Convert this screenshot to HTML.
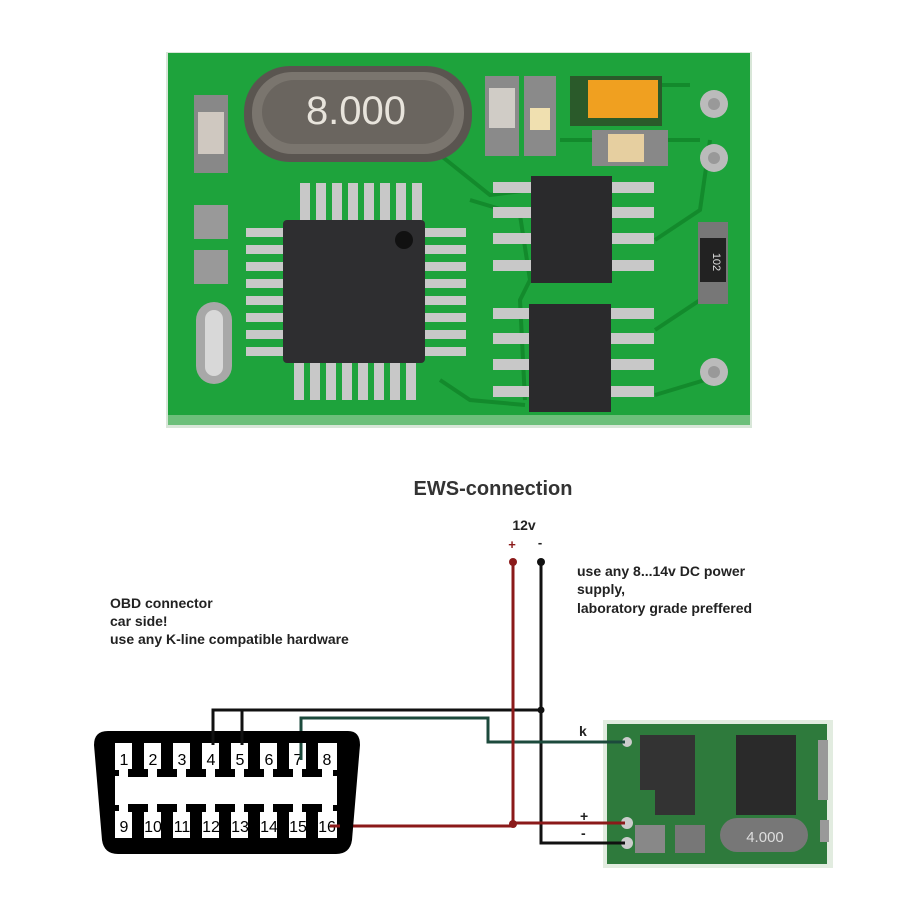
<!DOCTYPE html>
<html><head><meta charset="utf-8"><style>
html,body{margin:0;padding:0;background:#fff}
svg{display:block}
text{font-family:"Liberation Sans",Arial,sans-serif}
</style></head><body>
<svg width="900" height="900" viewBox="0 0 900 900" xmlns="http://www.w3.org/2000/svg">
<rect width="900" height="900" fill="#fff"/>
<!-- top PCB -->
<rect x="166" y="52" width="586" height="376" fill="#d8e6d8"/>
<rect x="168" y="53" width="582" height="368" fill="#1ea33c"/>
<rect x="168" y="415" width="582" height="10" fill="#6cbf7a"/>
<g stroke="#138a2c" stroke-width="4" fill="none">
<path d="M440 155 L490 195 L530 190"/><path d="M470 200 L520 215 L530 280 L520 300 L525 400"/>
<path d="M655 240 L700 210 L710 140"/><path d="M655 330 L700 300 L700 250"/><path d="M655 395 L705 380"/>
<path d="M440 380 L470 400 L525 405"/><path d="M560 140 L700 140"/><path d="M570 85 L690 85"/>
</g>
<!-- crystal -->
<rect x="244" y="66" width="228" height="96" rx="46" fill="#5a5550"/>
<rect x="252" y="72" width="212" height="82" rx="40" fill="#7a756e"/>
<rect x="262" y="80" width="192" height="64" rx="32" fill="#6a655f"/>
<text x="356" y="124" font-size="40" fill="#e8e4dc" text-anchor="middle">8.000</text>
<!-- left small parts -->
<rect x="194" y="95" width="34" height="78" fill="#888"/><rect x="198" y="112" width="26" height="42" fill="#cfc8c0"/>
<rect x="194" y="205" width="34" height="34" fill="#999"/><rect x="194" y="250" width="34" height="34" fill="#999"/>
<rect x="196" y="302" width="36" height="82" rx="18" fill="#a8a8a8"/><rect x="205" y="310" width="18" height="66" rx="9" fill="#d8d8d8"/>
<!-- top components -->
<rect x="485" y="76" width="34" height="80" fill="#8a8a8a"/><rect x="489" y="88" width="26" height="40" fill="#d0ccc6"/>
<rect x="524" y="76" width="32" height="80" fill="#8a8a8a"/><rect x="530" y="108" width="20" height="22" fill="#f0e0b0"/>
<rect x="570" y="76" width="92" height="50" fill="#2a5a2a"/><rect x="588" y="80" width="70" height="38" fill="#f0a020"/>
<rect x="592" y="130" width="76" height="36" fill="#888"/><rect x="608" y="134" width="36" height="28" fill="#e6cfa0"/>
<circle cx="714" cy="104" r="14" fill="#bbb"/><circle cx="714" cy="104" r="6" fill="#999"/>
<circle cx="714" cy="158" r="14" fill="#bbb"/><circle cx="714" cy="158" r="6" fill="#999"/>
<circle cx="714" cy="372" r="14" fill="#bbb"/><circle cx="714" cy="372" r="6" fill="#999"/>
<rect x="698" y="222" width="30" height="82" fill="#777"/><rect x="700" y="238" width="26" height="44" fill="#222"/>
<text x="713" y="262" font-size="11" fill="#ddd" text-anchor="middle" transform="rotate(90 713 262)">102</text>
<!-- QFP -->
<g fill="#c8c8c8">
<rect x="300" y="183" width="10" height="38"/><rect x="316" y="183" width="10" height="38"/><rect x="332" y="183" width="10" height="38"/><rect x="348" y="183" width="10" height="38"/><rect x="364" y="183" width="10" height="38"/><rect x="380" y="183" width="10" height="38"/><rect x="396" y="183" width="10" height="38"/><rect x="412" y="183" width="10" height="38"/>
<rect x="294" y="362" width="10" height="38"/><rect x="310" y="362" width="10" height="38"/><rect x="326" y="362" width="10" height="38"/><rect x="342" y="362" width="10" height="38"/><rect x="358" y="362" width="10" height="38"/><rect x="374" y="362" width="10" height="38"/><rect x="390" y="362" width="10" height="38"/><rect x="406" y="362" width="10" height="38"/>
<rect x="246" y="228" width="40" height="9"/><rect x="246" y="245" width="40" height="9"/><rect x="246" y="262" width="40" height="9"/><rect x="246" y="279" width="40" height="9"/><rect x="246" y="296" width="40" height="9"/><rect x="246" y="313" width="40" height="9"/><rect x="246" y="330" width="40" height="9"/><rect x="246" y="347" width="40" height="9"/>
<rect x="424" y="228" width="42" height="9"/><rect x="424" y="245" width="42" height="9"/><rect x="424" y="262" width="42" height="9"/><rect x="424" y="279" width="42" height="9"/><rect x="424" y="296" width="42" height="9"/><rect x="424" y="313" width="42" height="9"/><rect x="424" y="330" width="42" height="9"/><rect x="424" y="347" width="42" height="9"/>
</g>
<rect x="283" y="220" width="142" height="143" rx="4" fill="#2e2e30"/>
<circle cx="404" cy="240" r="9" fill="#111"/>
<!-- SOIC -->
<g fill="#c8c8c8">
<rect x="493" y="182" width="40" height="11"/><rect x="493" y="207" width="40" height="11"/><rect x="493" y="233" width="40" height="11"/><rect x="493" y="260" width="40" height="11"/>
<rect x="610" y="182" width="44" height="11"/><rect x="610" y="207" width="44" height="11"/><rect x="610" y="233" width="44" height="11"/><rect x="610" y="260" width="44" height="11"/>
<rect x="493" y="308" width="40" height="11"/><rect x="493" y="333" width="40" height="11"/><rect x="493" y="359" width="40" height="11"/><rect x="493" y="386" width="40" height="11"/>
<rect x="610" y="308" width="44" height="11"/><rect x="610" y="333" width="44" height="11"/><rect x="610" y="359" width="44" height="11"/><rect x="610" y="386" width="44" height="11"/>
</g>
<rect x="531" y="176" width="81" height="107" fill="#2a2a2c"/>
<rect x="529" y="304" width="82" height="108" fill="#2a2a2c"/>

<!-- title/text -->
<text x="493" y="495" font-size="20" font-weight="bold" fill="#333" text-anchor="middle">EWS-connection</text>
<text x="524" y="530" font-size="14" font-weight="bold" fill="#222" text-anchor="middle">12v</text>
<text x="512" y="549" font-size="13" font-weight="bold" fill="#8b1a1a" text-anchor="middle">+</text>
<text x="540" y="547" font-size="13" font-weight="bold" fill="#222" text-anchor="middle">-</text>
<g font-size="14" font-weight="bold" fill="#222">
<text x="577" y="576">use any 8...14v DC power</text>
<text x="577" y="594">supply,</text>
<text x="577" y="613">laboratory grade preffered</text>
<text x="110" y="608">OBD connector</text>
<text x="110" y="626">car side!</text>
<text x="110" y="644">use any K-line compatible hardware</text>
<text x="579" y="736">k</text>
<text x="580" y="821">+</text>
<text x="581" y="838">-</text>
</g>

<!-- small PCB -->
<rect x="603" y="720" width="230" height="148" fill="#e2ece0"/>
<rect x="607" y="724" width="220" height="140" fill="#2e7a3c"/>
<rect x="640" y="735" width="55" height="55" fill="#333"/>
<rect x="736" y="735" width="60" height="80" fill="#2a2a2a"/>
<rect x="655" y="775" width="40" height="40" fill="#333"/>
<rect x="720" y="818" width="88" height="34" rx="17" fill="#777"/>
<text x="765" y="842" font-size="15" fill="#ddd" text-anchor="middle">4.000</text>
<rect x="635" y="825" width="30" height="28" fill="#888"/><rect x="675" y="825" width="30" height="28" fill="#777"/>
<rect x="818" y="740" width="10" height="60" fill="#999"/><rect x="820" y="820" width="9" height="22" fill="#999"/>
<circle cx="627" cy="742" r="5" fill="#ccc"/><circle cx="627" cy="823" r="6" fill="#ccc"/><circle cx="627" cy="843" r="6" fill="#ccc"/>

<!-- wires -->
<g fill="none" stroke-width="3">
<path d="M213 733 V710 H541" stroke="#111"/><path d="M242 733 V710" stroke="#111"/>
<path d="M541 562 V843 H625" stroke="#111"/>
<path d="M301 760 V718 H488 V742 H625" stroke="#1c4a3c"/>
<path d="M513 562 V826 H335" stroke="#8b1a1a"/><path d="M513 823 H625" stroke="#8b1a1a"/>
</g>
<circle cx="513" cy="562" r="4" fill="#8b1a1a"/><circle cx="541" cy="562" r="4" fill="#111"/>
<circle cx="541" cy="710" r="3.5" fill="#111"/><circle cx="513" cy="824" r="4" fill="#8b1a1a"/>

<!-- OBD connector -->
<path d="M108 731 H348 Q360 731 360 745 L352 840 Q350 854 336 854 H118 Q104 854 102 840 L94 745 Q94 731 108 731 Z" fill="#000"/>
<rect x="115" y="743" width="222" height="95" fill="#fff"/>
<g fill="#000">
<rect x="132" y="743" width="12" height="30"/><rect x="128" y="769" width="20" height="8"/>
<rect x="161" y="743" width="12" height="30"/><rect x="157" y="769" width="20" height="8"/>
<rect x="190" y="743" width="12" height="30"/><rect x="186" y="769" width="20" height="8"/>
<rect x="219" y="743" width="12" height="30"/><rect x="215" y="769" width="20" height="8"/>
<rect x="248" y="743" width="12" height="30"/><rect x="244" y="769" width="20" height="8"/>
<rect x="277" y="743" width="12" height="30"/><rect x="273" y="769" width="20" height="8"/>
<rect x="306" y="743" width="12" height="30"/><rect x="302" y="769" width="20" height="8"/>
<rect x="132" y="808" width="12" height="30"/><rect x="128" y="804" width="20" height="8"/>
<rect x="161" y="808" width="12" height="30"/><rect x="157" y="804" width="20" height="8"/>
<rect x="190" y="808" width="12" height="30"/><rect x="186" y="804" width="20" height="8"/>
<rect x="219" y="808" width="12" height="30"/><rect x="215" y="804" width="20" height="8"/>
<rect x="248" y="808" width="12" height="30"/><rect x="244" y="804" width="20" height="8"/>
<rect x="277" y="808" width="12" height="30"/><rect x="273" y="804" width="20" height="8"/>
<rect x="306" y="808" width="12" height="30"/><rect x="302" y="804" width="20" height="8"/>
<rect x="115" y="770" width="4" height="6"/><rect x="333" y="770" width="4" height="6"/>
<rect x="115" y="805" width="4" height="6"/><rect x="333" y="805" width="4" height="6"/>
</g>
<g font-size="16" fill="#000" text-anchor="middle">
<text x="124" y="765">1</text><text x="153" y="765">2</text><text x="182" y="765">3</text><text x="211" y="765">4</text><text x="240" y="765">5</text><text x="269" y="765">6</text><text x="298" y="765">7</text><text x="327" y="765">8</text>
<text x="124" y="832">9</text><text x="153" y="832">10</text><text x="182" y="832">11</text><text x="211" y="832">12</text><text x="240" y="832">13</text><text x="269" y="832">14</text><text x="298" y="832">15</text><text x="327" y="832">16</text>
</g>
<path d="M213 731 V745 M242 731 V745" stroke="#111" stroke-width="3"/>
<path d="M301 743 V760" stroke="#1c4a3c" stroke-width="3"/>
<path d="M330 826 H340" stroke="#8b1a1a" stroke-width="3"/>
</svg>
</body></html>
